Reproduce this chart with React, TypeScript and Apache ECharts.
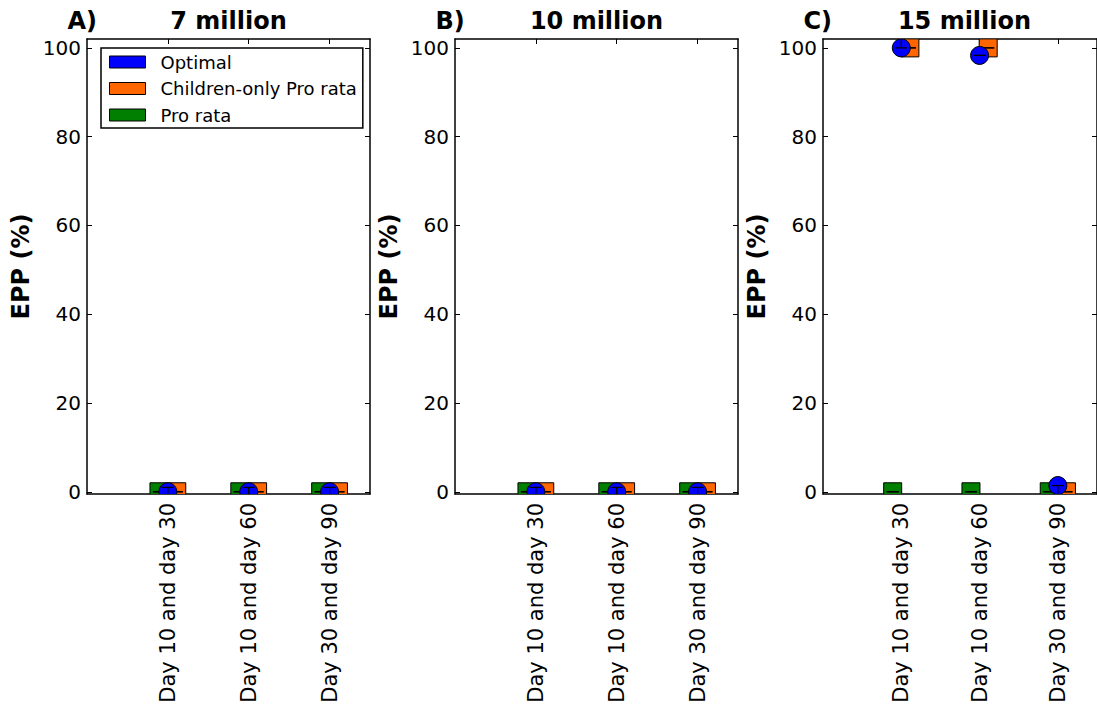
import React, { useEffect, useRef } from "react";
import * as echarts from "echarts";

// ---- data ----
const categories = ["Day 10 and day 30", "Day 10 and day 60", "Day 30 and day 90"];
const panelTitles = ["7 million", "10 million", "15 million"];
const panelLetters = ["A)", "B)", "C)"];
const yTicks = [0, 20, 40, 60, 80, 100];
const xTicks = [1, 2, 3];

// values per panel (A, B, C), per category
const optimal = [
  [0, 0, 0],
  [0, 0, 0],
  [100, 98.3, 1.4],
];
const optimalLow = [
  [-1, -1, -1],
  [-1, -1, -1],
  [100, 98.3, -1],
];
const optimalHigh = [
  [1, 1, 1],
  [1, 1, 1],
  [104, 98.3, 1.4],
];
const childrenOnly = [
  [0, 0, 0],
  [0, 0, 0],
  [100, 100, 0],
];
const proRata = [
  [0, 0, 0],
  [0, 0, 0],
  [0, 0, 0],
];

const names = { optimal: "Optimal", children: "Children-only Pro rata", proRata: "Pro rata" };
const colors = { optimal: "#0000ff", children: "#ff6600", proRata: "#007f00" };

const FONT = "DejaVu Sans";
const gridLefts = [87, 455, 823];
const gridTop = 39;
const gridW = 283;
const gridH = 455;
const offset = 0.11;
const markerSize = 18;

function errRender(params: any, api: any) {
  const x = api.value(0);
  const lo = api.value(1);
  const hi = api.value(2);
  const cs = params.coordSys;
  const top = cs.y;
  const bottom = cs.y + cs.height;
  const pLo = api.coord([x, lo]);
  const pHi = api.coord([x, hi]);
  const half = 6;
  const style = { stroke: "#000", lineWidth: 1.2 };
  const children: any[] = [];
  [pLo, pHi].forEach((p) => {
    if (p[1] >= top - 0.5 && p[1] <= bottom + 0.5) {
      children.push({ type: "line", shape: { x1: p[0] - half, y1: p[1], x2: p[0] + half, y2: p[1] }, style });
    }
  });
  const y1 = Math.max(top, Math.min(bottom, pHi[1]));
  const y2 = Math.max(top, Math.min(bottom, pLo[1]));
  if (Math.abs(y2 - y1) > 0.5) {
    children.push({ type: "line", shape: { x1: pLo[0], y1, x2: pLo[0], y2 }, style });
  }
  return { type: "group", children };
}

function squareRender(color: string) {
  return (params: any, api: any) => {
    const p = api.coord([api.value(0), api.value(1)]);
    const s = markerSize;
    return {
      type: "rect",
      shape: { x: p[0] - s / 2, y: p[1] - s / 2, width: s, height: s },
      style: { fill: color, stroke: "#000", lineWidth: 1 },
    };
  };
}

function circleRender(color: string) {
  return (params: any, api: any) => {
    const p = api.coord([api.value(0), api.value(1)]);
    return {
      type: "circle",
      shape: { cx: p[0], cy: p[1], r: markerSize / 2 },
      style: { fill: color, stroke: "#000", lineWidth: 1 },
    };
  };
}

export default function App() {
  const ref = useRef<HTMLDivElement>(null);
  useEffect(() => {
    document.body.style.margin = "0";
    const chart = echarts.init(ref.current!, null, { renderer: "svg" });

    const grid: any[] = [];
    const xAxis: any[] = [];
    const yAxis: any[] = [];
    const series: any[] = [];
    const graphic: any[] = [];

    const axisLine = { show: true, onZero: false, lineStyle: { color: "#000", width: 1.5 } };

    for (let p = 0; p < 3; p++) {
      grid.push({ left: gridLefts[p], top: gridTop, width: gridW, height: gridH });
      xAxis.push({
        type: "value",
        gridIndex: p,
        min: 0,
        max: 3.5,
        position: "bottom",
        axisLine,
        splitLine: { show: false },
        axisTick: { inside: true, length: 5, customValues: xTicks, lineStyle: { color: "#000" } },
        axisLabel: {
          customValues: xTicks,
          rotate: 90,
          margin: 9,
          fontSize: 21,
          fontFamily: FONT,
          color: "#000",
          formatter: (v: number) => categories[Math.round(v) - 1] ?? "",
        },
      });
      xAxis.push({
        type: "value",
        gridIndex: p,
        min: 0,
        max: 3.5,
        position: "top",
        axisLine,
        splitLine: { show: false },
        axisTick: { inside: true, length: 5, customValues: xTicks, lineStyle: { color: "#000" } },
        axisLabel: { show: false },
      });
      yAxis.push({
        type: "value",
        gridIndex: p,
        min: -0.5,
        max: 102,
        position: "left",
        axisLine,
        splitLine: { show: false },
        axisTick: { inside: true, length: 5, customValues: yTicks, lineStyle: { color: "#000" } },
        axisLabel: { customValues: yTicks, margin: 6, fontSize: 20, fontFamily: FONT, color: "#000" },
        name: "EPP (%)",
        nameLocation: "middle",
        nameGap: 54,
        nameTextStyle: { fontSize: 24, fontWeight: "bold", fontFamily: FONT, color: "#000" },
      });
      yAxis.push({
        type: "value",
        gridIndex: p,
        min: -0.5,
        max: 102,
        position: "right",
        axisLine,
        splitLine: { show: false },
        axisTick: { inside: true, length: 5, customValues: yTicks, lineStyle: { color: "#000" } },
        axisLabel: { show: false },
      });

      const xi = 2 * p;
      const yi = 2 * p;
      const common = { xAxisIndex: xi, yAxisIndex: yi, clip: true, encode: { x: 0, y: 1 } };
      series.push({
        ...common,
        type: "custom",
        name: names.proRata,
        z: 2,
        itemStyle: { color: colors.proRata, borderColor: "#000", borderWidth: 1 },
        renderItem: squareRender(colors.proRata),
        data: proRata[p].map((v, k) => [xTicks[k] - offset, v]),
      });
      series.push({
        ...common,
        type: "custom",
        name: names.children,
        z: 2,
        itemStyle: { color: colors.children, borderColor: "#000", borderWidth: 1 },
        renderItem: squareRender(colors.children),
        data: childrenOnly[p].map((v, k) => [xTicks[k] + offset, v]),
      });
      series.push({
        ...common,
        type: "custom",
        name: names.proRata,
        z: 3,
        renderItem: errRender,
        encode: { x: 0, y: [1, 2] },
        data: proRata[p].map((v, k) => [xTicks[k] - offset, v, v]),
      });
      series.push({
        ...common,
        type: "custom",
        name: names.children,
        z: 3,
        renderItem: errRender,
        encode: { x: 0, y: [1, 2] },
        data: childrenOnly[p].map((v, k) => [xTicks[k] + offset, v, v]),
      });
      series.push({
        ...common,
        type: "custom",
        name: names.optimal,
        z: 4,
        itemStyle: { color: colors.optimal, borderColor: "#000", borderWidth: 1 },
        renderItem: circleRender(colors.optimal),
        data: optimal[p].map((v, k) => [xTicks[k], v]),
      });
      series.push({
        ...common,
        type: "custom",
        name: names.optimal,
        z: 5,
        renderItem: errRender,
        encode: { x: 0, y: [1, 2] },
        data: optimal[p].map((v, k) => [xTicks[k], optimalLow[p][k], optimalHigh[p][k]]),
      });

      graphic.push({
        type: "text",
        x: gridLefts[p] + gridW / 2,
        y: 21,
        style: {
          text: panelTitles[p],
          fontSize: 24,
          fontWeight: "bold",
          fontFamily: FONT,
          fill: "#000",
          align: "center",
          verticalAlign: "middle",
        },
      });
      graphic.push({
        type: "text",
        x: gridLefts[p] - 19.5,
        y: 21,
        style: {
          text: panelLetters[p],
          fontSize: 24,
          fontWeight: "bold",
          fontFamily: FONT,
          fill: "#000",
          align: "left",
          verticalAlign: "middle",
        },
      });
    }

    chart.setOption({
      animation: false,
      backgroundColor: "#fff",
      grid,
      xAxis,
      yAxis,
      series,
      graphic,
      legend: {
        orient: "vertical",
        left: 101,
        top: 48,
        padding: [4, 6, 3, 8],
        itemWidth: 36,
        itemHeight: 12,
        itemGap: 6.5,
        backgroundColor: "#fff",
        borderColor: "#000",
        borderWidth: 1.5,
        selectedMode: false,
        textStyle: { fontSize: 18, fontFamily: FONT, color: "#000", lineHeight: 20, padding: [0, 0, 0, 10] },
        data: [
          { name: names.optimal, icon: "rect", itemStyle: { color: colors.optimal, borderColor: "#000", borderWidth: 1 } },
          { name: names.children, icon: "rect", itemStyle: { color: colors.children, borderColor: "#000", borderWidth: 1 } },
          { name: names.proRata, icon: "rect", itemStyle: { color: colors.proRata, borderColor: "#000", borderWidth: 1 } },
        ],
      },
    });
    return () => chart.dispose();
  }, []);
  return <div ref={ref} style={{ width: 1097, height: 708 }} />;
}
